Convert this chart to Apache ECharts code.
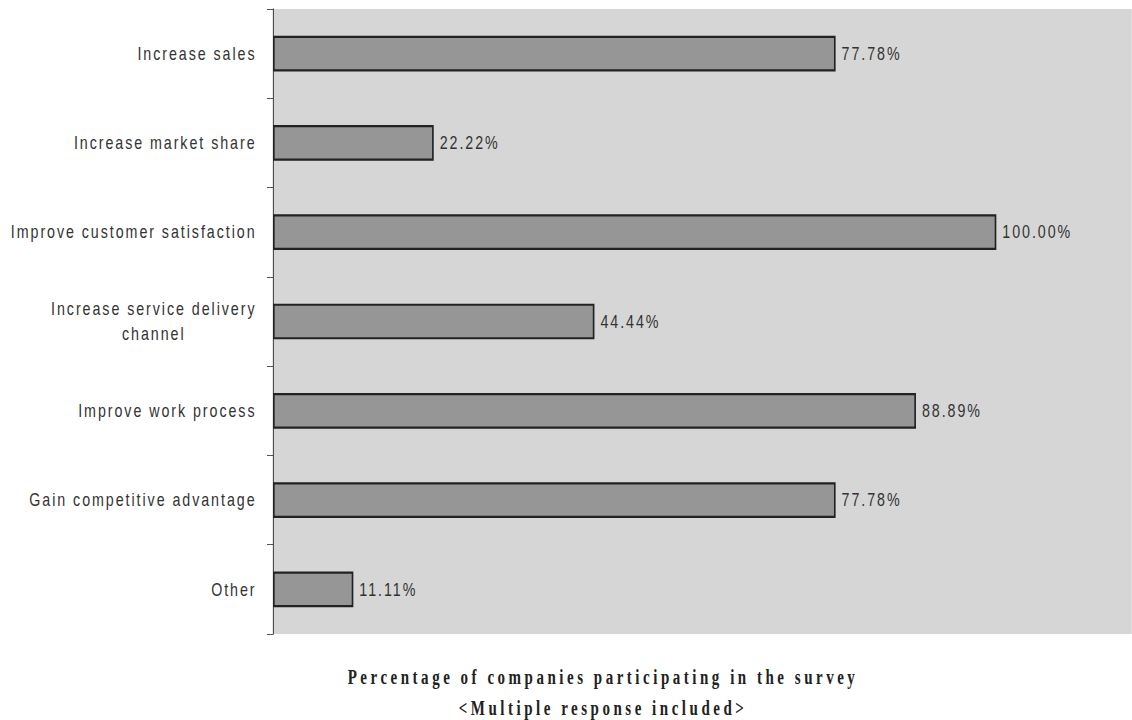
<!DOCTYPE html>
<html>
<head>
<meta charset="utf-8">
<script src="https://cdn.jsdelivr.net/npm/echarts@6/dist/echarts.min.js"></script>
<style>
  html, body { margin: 0; padding: 0; background: #ffffff; overflow: hidden; }
  #wrap { width: 1132px; height: 720px; overflow: hidden; }
  /* the chart is laid out wider and squeezed horizontally, which gives the
     tall, condensed lettering of the original report figure */
  #chart { width: 1509.33px; height: 720px; transform: scaleX(0.75); transform-origin: 0 0; }
  #chart svg text { letter-spacing: 2.6px; }
  #chart svg text[style*="Serif"], #chart svg text[font-family*="Serif"] { letter-spacing: 4.7px; }
</style>
</head>
<body>
<div id="wrap"><div id="chart"></div></div>
<script>
// Survey objectives and share of companies naming each one (%)
const categories = [
  'Increase sales',
  'Increase market share',
  'Improve customer satisfaction',
  'Increase service delivery\nchannel',
  'Improve work process',
  'Gain competitive advantage',
  'Other'
];
const percentages = [77.78, 22.22, 100.00, 44.44, 88.89, 77.78, 11.11];
const axisMax = 120;
const titleLines = [
  'Percentage of companies participating in the survey',
  '<Multiple response included>'
];

const SQUEEZE = 0.75;               // horizontal scale applied to the chart box
const px = v => v / SQUEEZE;        // screen x distance -> chart x distance

const sans = "'Liberation Sans', Arial, sans-serif";
const serif = "'Liberation Serif', 'Times New Roman', serif";

const chart = echarts.init(document.getElementById('chart'), null, { renderer: 'svg' });

chart.setOption({
  animation: false,
  backgroundColor: '#ffffff',
  grid: {
    left: px(273),
    top: 9,
    width: px(868),
    height: 625,
    containLabel: false,
    outerBoundsMode: 'none',
    show: true,
    backgroundColor: '#d6d6d6',
    borderWidth: 0
  },
  xAxis: {
    type: 'value',
    min: 0,
    max: axisMax,
    show: false
  },
  yAxis: {
    type: 'category',
    inverse: true,
    data: categories,
    axisLine: { show: true, lineStyle: { color: '#3a3a3a', width: px(1) } },
    axisTick: { show: true, length: px(6), lineStyle: { color: '#3a3a3a', width: 1 } },
    axisLabel: {
      margin: px(16.5),
      color: '#333333',
      fontFamily: sans,
      fontSize: 19,
      formatter: function (v) {
        return v.indexOf('\n') >= 0 ? '{c|' + v.split('\n').join('}\n{c|') + '}' : v;
      },
      rich: {
        c: { width: 274, align: 'center', fontFamily: sans, fontSize: 19, color: '#333333', lineHeight: 25 }
      }
    },
    splitLine: { show: false }
  },
  series: [{
    type: 'bar',
    data: percentages,
    barCategoryGap: '60%',
    itemStyle: {
      color: '#969696',
      borderColor: '#222222',
      borderWidth: 2.2
    },
    label: {
      show: true,
      position: 'right',
      distance: px(6),
      color: '#333333',
      fontFamily: sans,
      fontSize: 19,
      formatter: function (p) { return p.value.toFixed(2) + '%'; }
    }
  }],
  graphic: [
    {
      type: 'text',
      x: px(603), y: 677,
      style: {
        text: titleLines[0],
        textAlign: 'center', textVerticalAlign: 'middle',
        font: 'bold 20px ' + serif,
        fill: '#222222'
      }
    },
    {
      type: 'text',
      x: px(603), y: 708,
      style: {
        text: titleLines[1],
        textAlign: 'center', textVerticalAlign: 'middle',
        font: 'bold 20px ' + serif,
        fill: '#222222'
      }
    }
  ]
});
</script>
</body>
</html>
